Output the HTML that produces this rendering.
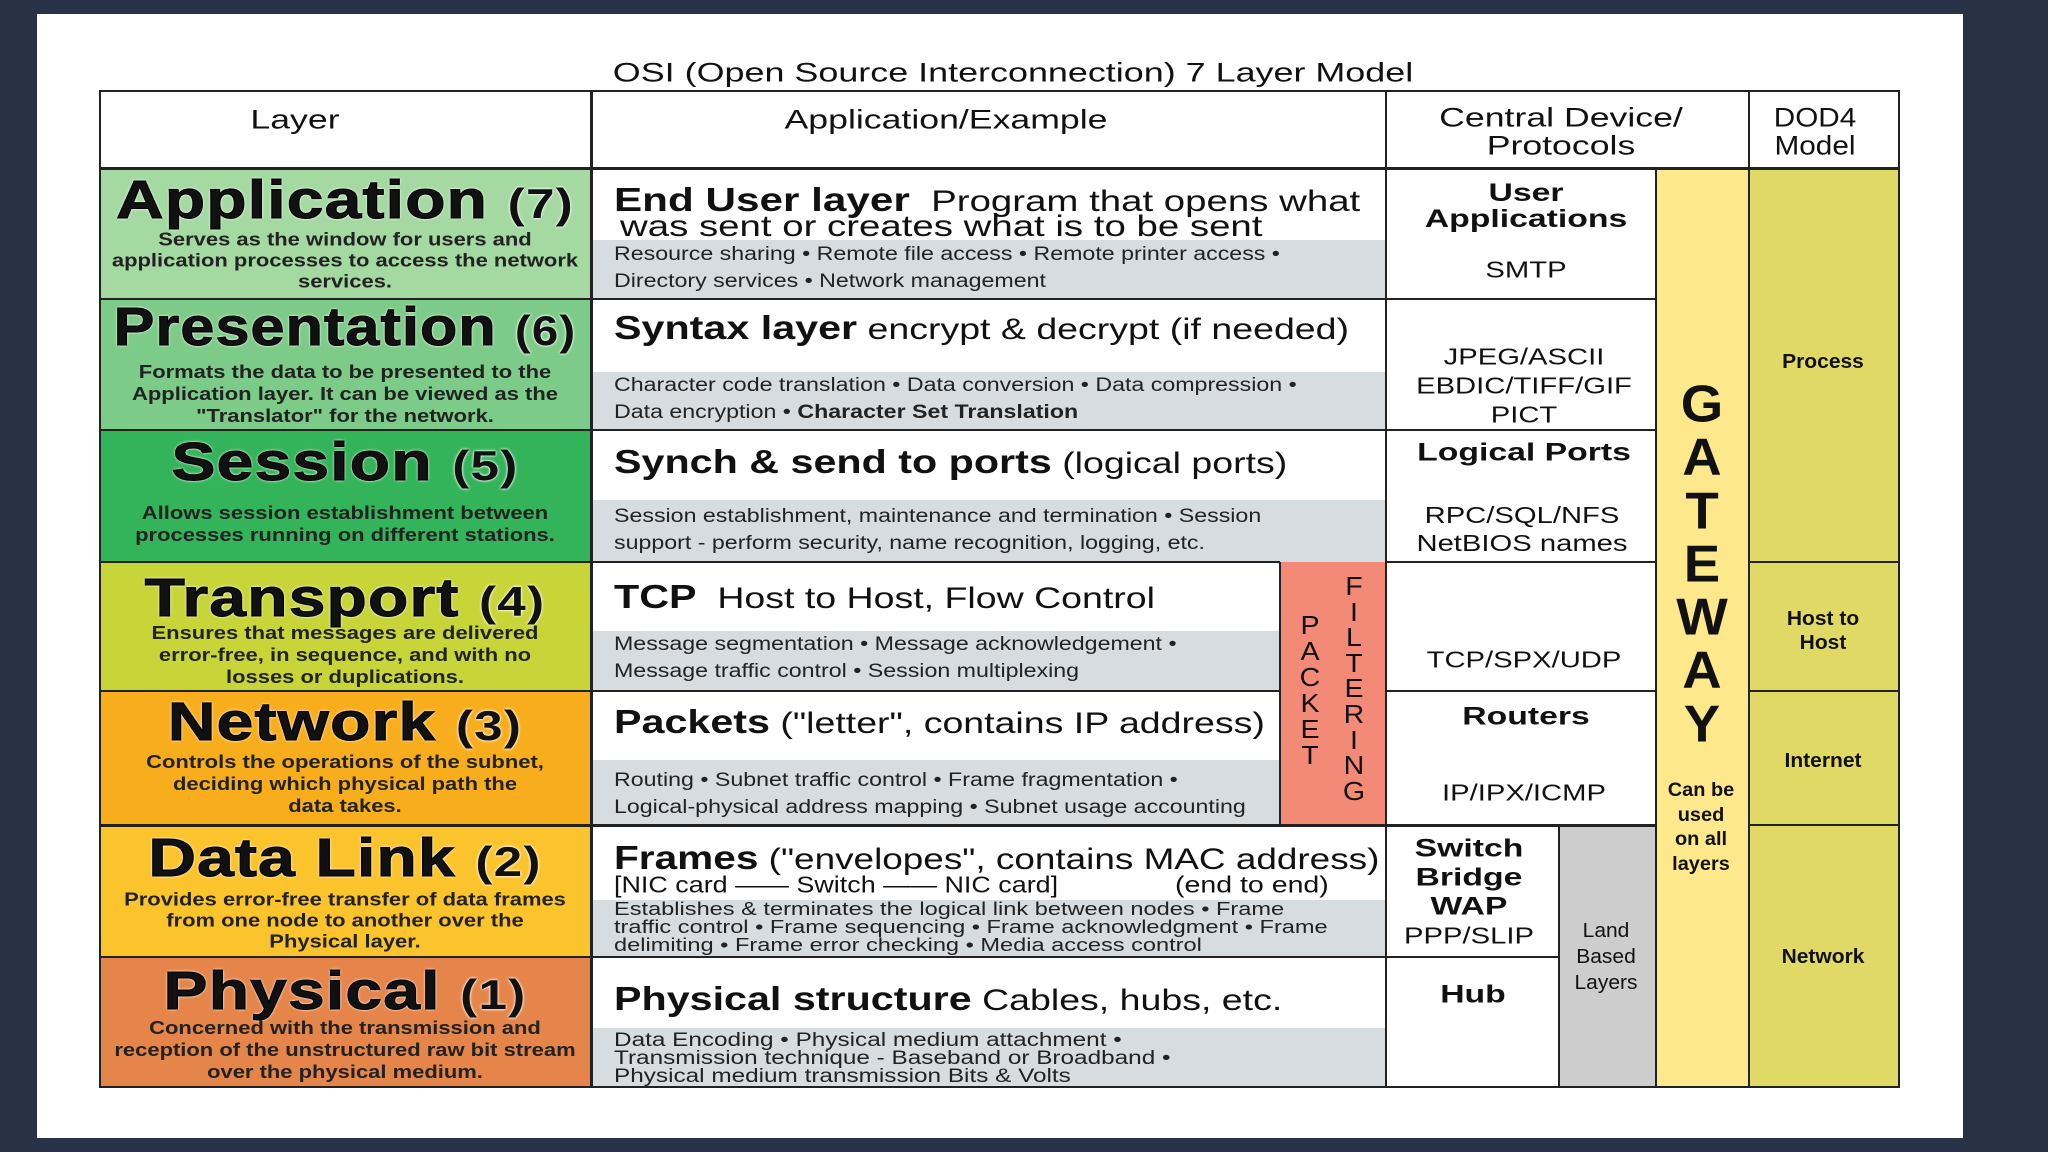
<!DOCTYPE html>
<html><head><meta charset="utf-8"><style>
body{margin:0;width:2048px;height:1152px;background:#283247;position:relative;overflow:hidden;font-family:"Liberation Sans",Arial,sans-serif;color:#111}
.card{position:absolute;left:37px;top:14px;width:1926px;height:1124px;background:#fff}
.b{position:absolute;box-sizing:border-box;border:2px solid #222}
.g{position:absolute;background:#d7dce1}
.t{--s:1.22;position:absolute;white-space:nowrap;line-height:1;transform:translateY(-50%) scaleX(var(--s));transform-origin:left center}
.c{transform:translate(-50%,-50%) scaleX(var(--s));transform-origin:center center;text-align:center}
.lt{font-weight:bold;font-size:54px;letter-spacing:1px;-webkit-text-stroke:1px #000;text-shadow:0 0 3px #fff,0 0 2px #fff}
.lt span{font-size:42px;-webkit-text-stroke:0}
.ld{font-size:18px;font-weight:bold;color:#222}
.mh{font-size:30px}
.mh b{font-size:33px}
.gl{font-size:19px;color:#222}
.cd{font-size:23px;--s:1.27}
.cb{font-size:25px;font-weight:bold;--s:1.35}
.dd{font-size:20px;font-weight:bold;--s:1.05}
.gw{font-size:52px;font-weight:bold;--s:1.05}
.pf{font-size:26px;--s:1.1}
.hd{font-size:27px;--s:1.32}
</style></head><body>
<div class="card"></div>
<div class="t c" style="left:1013px;top:73px;font-size:27px;--s:1.33">OSI (Open Source Interconnection) 7 Layer Model</div>

<div class="b" style="left:99px;top:90px;width:1801px;height:998px;background:#fff"></div>
<div style="position:absolute;left:99px;top:168px;width:493px;height:131px;background:#a4d9a2"></div>
<div style="position:absolute;left:99px;top:299px;width:493px;height:131px;background:#7dcb88"></div>
<div style="position:absolute;left:99px;top:430px;width:493px;height:132px;background:#34b45a"></div>
<div style="position:absolute;left:99px;top:562px;width:493px;height:129px;background:#c8d538"></div>
<div style="position:absolute;left:99px;top:691px;width:493px;height:134px;background:#f8ae1c"></div>
<div style="position:absolute;left:99px;top:825px;width:493px;height:132px;background:#fbc42c"></div>
<div style="position:absolute;left:99px;top:957px;width:493px;height:131px;background:#e5854a"></div>

<div class="g" style="left:592px;top:240px;width:794px;height:59px"></div>
<div class="g" style="left:592px;top:372px;width:794px;height:58px"></div>
<div class="g" style="left:592px;top:500px;width:794px;height:62px"></div>
<div class="g" style="left:592px;top:631px;width:688px;height:60px"></div>
<div class="g" style="left:592px;top:760px;width:688px;height:65px"></div>
<div class="g" style="left:592px;top:900px;width:794px;height:57px"></div>
<div class="g" style="left:592px;top:1028px;width:794px;height:60px"></div>

<div style="position:absolute;left:1280px;top:562px;width:106px;height:263px;background:#f28a77"></div>
<div style="position:absolute;left:1559px;top:825px;width:97px;height:263px;background:#cdcdcd"></div>
<div style="position:absolute;left:1656px;top:168px;width:93px;height:920px;background:#fde88c"></div>
<div style="position:absolute;left:1749px;top:168px;width:151px;height:920px;background:#e0d965"></div>

<div class="b" style="left:99px;top:90px;width:1801px;height:998px"></div>
<div class="b" style="left:99px;top:90px;width:1801px;height:80px;border-width:0 0 3px 0"></div>
<div class="b" style="left:590px;top:90px;width:3px;height:998px;border-width:0 0 0 3px"></div>
<div class="b" style="left:1385px;top:90px;width:3px;height:998px;border-width:0 0 0 2px"></div>
<div class="b" style="left:1655px;top:168px;width:3px;height:920px;border-width:0 0 0 2px"></div>
<div class="b" style="left:1748px;top:90px;width:3px;height:998px;border-width:0 0 0 2px"></div>
<div class="b" style="left:1279px;top:562px;width:3px;height:263px;border-width:0 0 0 2px"></div>
<div class="b" style="left:1558px;top:825px;width:3px;height:263px;border-width:0 0 0 2px"></div>
<div class="b" style="left:99px;top:298px;width:1557px;height:3px;border-width:2px 0 0 0"></div>
<div class="b" style="left:99px;top:429px;width:1557px;height:3px;border-width:2px 0 0 0"></div>
<div class="b" style="left:99px;top:561px;width:1181px;height:3px;border-width:2px 0 0 0"></div>
<div class="b" style="left:1386px;top:561px;width:270px;height:3px;border-width:2px 0 0 0"></div>
<div class="b" style="left:1749px;top:561px;width:151px;height:3px;border-width:2px 0 0 0"></div>
<div class="b" style="left:99px;top:690px;width:1181px;height:3px;border-width:2px 0 0 0"></div>
<div class="b" style="left:1386px;top:690px;width:270px;height:3px;border-width:2px 0 0 0"></div>
<div class="b" style="left:1749px;top:690px;width:151px;height:3px;border-width:2px 0 0 0"></div>
<div class="b" style="left:99px;top:824px;width:1557px;height:3px;border-width:3px 0 0 0"></div>
<div class="b" style="left:1749px;top:824px;width:151px;height:3px;border-width:2px 0 0 0"></div>
<div class="b" style="left:99px;top:956px;width:1460px;height:3px;border-width:2px 0 0 0"></div>

<div class="t c hd" style="left:295px;top:120px">Layer</div>
<div class="t c hd" style="left:946px;top:120px">Application/Example</div>
<div class="t c hd" style="left:1561px;top:132px;line-height:1.05">Central Device/<br>Protocols</div>
<div class="t c hd" style="left:1815px;top:132px;line-height:1.05;--s:1.1">DOD4<br>Model</div>

<div class="t c lt" style="left:345px;top:200px">Application <span>(7)</span></div>
<div class="t c ld" style="left:345px;top:261px;line-height:21px">Serves as the window for users and<br>application processes to access the network<br>services.</div>
<div class="t c lt" style="left:345px;top:327px;--s:1.13">Presentation <span>(6)</span></div>
<div class="t c ld" style="left:345px;top:394px;line-height:22px">Formats the data to be presented to the<br>Application layer. It can be viewed as the<br>"Translator" for the network.</div>
<div class="t c lt" style="left:345px;top:462px">Session <span>(5)</span></div>
<div class="t c ld" style="left:345px;top:524px;line-height:22px">Allows session establishment between<br>processes running on different stations.</div>
<div class="t c lt" style="left:345px;top:598px">Transport <span>(4)</span></div>
<div class="t c ld" style="left:345px;top:655px;line-height:22px">Ensures that messages are delivered<br>error-free, in sequence, and with no<br>losses or duplications.</div>
<div class="t c lt" style="left:345px;top:722px">Network <span>(3)</span></div>
<div class="t c ld" style="left:345px;top:784px;line-height:22px">Controls the operations of the subnet,<br>deciding which physical path the<br>data takes.</div>
<div class="t c lt" style="left:345px;top:858px">Data Link <span>(2)</span></div>
<div class="t c ld" style="left:345px;top:921px;line-height:21px">Provides error-free transfer of data frames<br>from one node to another over the<br>Physical layer.</div>
<div class="t c lt" style="left:345px;top:991px">Physical <span>(1)</span></div>
<div class="t c ld" style="left:345px;top:1050px;line-height:22px">Concerned with the transmission and<br>reception of the unstructured raw bit stream<br>over the physical medium.</div>

<div class="t mh" style="left:614px;top:200px;--s:1.28"><b>End User layer</b>&nbsp; Program that opens what</div>
<div class="t mh" style="left:620px;top:227px;--s:1.28">was sent or creates what is to be sent</div>
<div class="t gl" style="left:614px;top:268px;line-height:27px">Resource sharing • Remote file access • Remote printer access •<br>Directory services • Network management</div>
<div class="t mh" style="left:614px;top:328px;--s:1.25"><b>Syntax layer</b> encrypt &amp; decrypt (if needed)</div>
<div class="t gl" style="left:614px;top:399px;line-height:27px">Character code translation • Data conversion • Data compression •<br>Data encryption • <b>Character Set Translation</b></div>
<div class="t mh" style="left:614px;top:462px;--s:1.25"><b>Synch &amp; send to ports</b> (logical ports)</div>
<div class="t gl" style="left:614px;top:530px;line-height:27px">Session establishment, maintenance and termination • Session<br>support - perform security, name recognition, logging, etc.</div>
<div class="t mh" style="left:614px;top:597px;--s:1.25"><b>TCP</b>&nbsp; Host to Host, Flow Control</div>
<div class="t gl" style="left:614px;top:658px;line-height:27px">Message segmentation • Message acknowledgement •<br>Message traffic control • Session multiplexing</div>
<div class="t mh" style="left:614px;top:722px;--s:1.25"><b>Packets</b> ("letter", contains IP address)</div>
<div class="t gl" style="left:614px;top:794px;line-height:27px">Routing • Subnet traffic control • Frame fragmentation •<br>Logical-physical address mapping • Subnet usage accounting</div>
<div class="t mh" style="left:614px;top:858px;--s:1.23"><b>Frames</b> ("envelopes", contains MAC address)</div>
<div class="t" style="left:614px;top:885px;font-size:23px;--s:1.17">[NIC card —— Switch —— NIC card]</div>
<div class="t" style="left:1175px;top:885px;font-size:23px;--s:1.24">(end to end)</div>
<div class="t gl" style="left:614px;top:927px;line-height:18px;font-size:18px;--s:1.31">Establishes &amp; terminates the logical link between nodes • Frame<br>traffic control • Frame sequencing • Frame acknowledgment • Frame<br>delimiting • Frame error checking • Media access control</div>
<div class="t mh" style="left:614px;top:999px;--s:1.25"><b>Physical structure</b> Cables, hubs, etc.</div>
<div class="t gl" style="left:614px;top:1059px;line-height:18px;font-size:19px;--s:1.28">Data Encoding • Physical medium attachment •<br>Transmission technique - Baseband or Broadband •<br>Physical medium transmission Bits &amp; Volts</div>

<div class="t c pf" style="left:1310px;top:690px;line-height:26px">P<br>A<br>C<br>K<br>E<br>T</div>
<div class="t c pf" style="left:1354px;top:689px;line-height:25.6px">F<br>I<br>L<br>T<br>E<br>R<br>I<br>N<br>G</div>

<div class="t c cb" style="left:1526px;top:206px;line-height:26px">User<br>Applications</div>
<div class="t c cd" style="left:1526px;top:270px">SMTP</div>
<div class="t c cd" style="left:1524px;top:386px;line-height:29px">JPEG/ASCII<br>EBDIC/TIFF/GIF<br>PICT</div>
<div class="t c cb" style="left:1524px;top:453px">Logical Ports</div>
<div class="t c cd" style="left:1522px;top:529px;line-height:28px">RPC/SQL/NFS<br>NetBIOS names</div>
<div class="t c cd" style="left:1524px;top:660px">TCP/SPX/UDP</div>
<div class="t c cb" style="left:1526px;top:717px">Routers</div>
<div class="t c cd" style="left:1524px;top:793px">IP/IPX/ICMP</div>
<div class="t c cb" style="left:1469px;top:878px;line-height:29px">Switch<br>Bridge<br>WAP</div>
<div class="t c cd" style="left:1469px;top:936px">PPP/SLIP</div>
<div class="t c cb" style="left:1473px;top:995px">Hub</div>
<div class="t c" style="left:1606px;top:957px;font-size:20px;line-height:26px;--s:1.05">Land<br>Based<br>Layers</div>

<div class="t c gw" style="left:1702px;top:565px;line-height:53.3px">G<br>A<br>T<br>E<br>W<br>A<br>Y</div>
<div class="t c" style="left:1701px;top:828px;font-size:19px;font-weight:bold;line-height:24.5px;--s:1.05">Can be<br>used<br>on all<br>layers</div>

<div class="t c dd" style="left:1823px;top:362px">Process</div>
<div class="t c dd" style="left:1823px;top:631px;line-height:24px">Host to<br>Host</div>
<div class="t c dd" style="left:1823px;top:761px">Internet</div>
<div class="t c dd" style="left:1823px;top:957px">Network</div>
</body></html>
